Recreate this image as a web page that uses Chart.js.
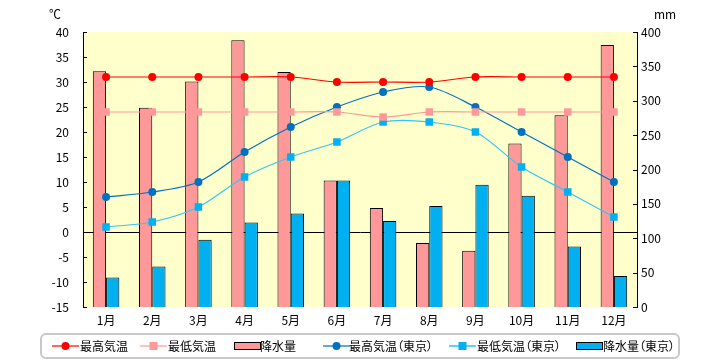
<!DOCTYPE html>
<html>
<head>
<meta charset="utf-8">
<script src="https://cdn.jsdelivr.net/npm/chart.js@4.4.1/dist/chart.umd.min.js"></script>
<style>
  body { margin: 0; background: #fff; font-family: 'Noto Sans CJK JP', sans-serif; }
  #wrap { position: relative; width: 720px; height: 360px; }
  .unit { position: absolute; top: 5px; font-size: 12px; color: #000; }
  #legend {
    position: absolute; left: 40px; top: 333px; width: 636px; height: 22px;
    border: 2px solid #c8c8c8; border-radius: 6px; background: #fff;
  }
  .item { position: absolute; top: 0; height: 22px; font-size: 12px; line-height: 22px; white-space: nowrap; }
  .item svg { position: absolute; top: 0; }
  .item span { font-feature-settings: "palt" 1; }
</style>
</head>
<body>
<div id="wrap">
  <canvas id="climateChart"></canvas>
  <span class="unit" style="left:49px">℃</span>
  <span class="unit" style="left:654px">mm</span>
  <div id="legend"></div>
</div>
<script>
// 月のラベル
const months = ['1月', '2月', '3月', '4月', '5月', '6月', '7月', '8月', '9月', '10月', '11月', '12月'];

// 現地の気温と降水量
const maxTemp = [31, 31, 31, 31, 31, 30, 30, 30, 31, 31, 31, 31];
const minTemp = [24, 24, 24, 24, 24, 24, 23, 24, 24, 24, 24, 24];
const rain = [343, 290, 328, 388, 342, 184, 144, 93, 82, 238, 279, 381];

// 東京の気温と降水量
const maxTempTokyo = [7, 8, 10, 16, 21, 25, 28, 29, 25, 20, 15, 10];
const minTempTokyo = [1, 2, 5, 11, 15, 18, 22, 22, 20, 13, 8, 3];
const rainTokyo = [43, 59, 98, 123, 136, 184, 125, 147, 178, 162, 88, 45];

// 軸の目盛り
const tempTicks = { min: -15, max: 40, step: 5 };
const rainTicks = { min: 0, max: 400, step: 50 };

// 凡例 (HTML)
const legendItems = [
  { label: '最高気温', kind: 'line', color: '#ff0000', marker: 'circle', sx: 10, tx: 38 },
  { label: '最低気温', kind: 'line', color: '#ff9999', marker: 'rect', sx: 98, tx: 126 },
  { label: '降水量', kind: 'bar', color: '#ff9999', sx: 192, tx: 218 },
  { label: '最高気温（東京）', kind: 'line', color: '#0070c0', marker: 'circle', sx: 281, tx: 307 },
  { label: '最低気温（東京）', kind: 'line', color: '#00b0f0', marker: 'rect', sx: 407, tx: 435 },
  { label: '降水量（東京）', kind: 'bar', color: '#00b0f0', sx: 534, tx: 561 }
];

const legendEl = document.getElementById('legend');
legendItems.forEach(it => {
  const div = document.createElement('div');
  div.className = 'item';
  div.style.left = it.sx + 'px';
  let svg;
  if (it.kind === 'line') {
    const mk = it.marker === 'circle'
      ? `<circle cx="13.5" cy="11" r="4" fill="${it.color}"/>`
      : `<rect x="9.5" y="7" width="8" height="8" fill="${it.color}"/>`;
    svg = `<svg width="28" height="22"><line x1="0" y1="11" x2="27" y2="11" stroke="${it.color}" stroke-width="1.2"/>${mk}</svg>`;
  } else {
    svg = `<svg width="28" height="22"><rect x="0.5" y="7.5" width="26" height="7" fill="${it.color}" stroke="#000" stroke-width="1"/></svg>`;
  }
  div.innerHTML = svg + `<span style="position:absolute;left:${it.tx - it.sx}px">${it.label}</span>`;
  legendEl.appendChild(div);
});

// 背景と内向きの目盛り線
const plotDecor = {
  id: 'plotDecor',
  beforeDraw(chart) {
    const { ctx, chartArea: a } = chart;
    ctx.save();
    ctx.fillStyle = '#ffffcc';
    ctx.fillRect(a.left, a.top, a.right - a.left, a.bottom - a.top);
    ctx.restore();
  },
  afterDraw(chart) {
    const { ctx, chartArea: a, scales } = chart;
    ctx.save();
    ctx.strokeStyle = '#000';
    ctx.lineWidth = 1;
    ctx.beginPath();
    scales.y.ticks.forEach(t => {
      const py = Math.round(scales.y.getPixelForValue(t.value)) + 0.5;
      ctx.moveTo(a.left, py);
      ctx.lineTo(a.left + 4, py);
    });
    scales.y2.ticks.forEach(t => {
      const py = Math.round(scales.y2.getPixelForValue(t.value)) + 0.5;
      ctx.moveTo(a.right, py);
      ctx.lineTo(a.right - 4, py);
    });
    ctx.stroke();
    ctx.restore();
  }
};

Chart.defaults.font.family = "'Noto Sans CJK JP', sans-serif";
Chart.defaults.font.size = 12;
Chart.defaults.color = '#000';

new Chart(document.getElementById('climateChart'), {
  data: {
    labels: months,
    datasets: [
      { type: 'line', label: '最高気温', data: maxTemp, yAxisID: 'y', order: 0,
        borderColor: '#ff0000', backgroundColor: '#ff0000', borderWidth: 1.2,
        pointStyle: 'circle', pointRadius: 4, pointBorderWidth: 0, tension: 0.3 },
      { type: 'line', label: '最低気温', data: minTemp, yAxisID: 'y', order: 0,
        borderColor: '#ff9999', backgroundColor: '#ff9999', borderWidth: 1.2,
        pointStyle: 'rect', pointRadius: 5.3, pointBorderWidth: 0, tension: 0.3 },
      { type: 'line', label: '最高気温（東京）', data: maxTempTokyo, yAxisID: 'y', order: 0,
        borderColor: '#0070c0', backgroundColor: '#0070c0', borderWidth: 1.2,
        pointStyle: 'circle', pointRadius: 4, pointBorderWidth: 0, tension: 0.3 },
      { type: 'line', label: '最低気温（東京）', data: minTempTokyo, yAxisID: 'y', order: 0,
        borderColor: '#33c6f4', backgroundColor: '#00b0f0', borderWidth: 1.2,
        pointStyle: 'rect', pointRadius: 5.3, pointBorderWidth: 0, tension: 0.3 },
      { type: 'bar', label: '降水量', data: rain, yAxisID: 'y2', order: 1,
        backgroundColor: '#ff9999', borderColor: '#000', borderWidth: 1,
        barPercentage: 1, categoryPercentage: 0.575 },
      { type: 'bar', label: '降水量（東京）', data: rainTokyo, yAxisID: 'y2', order: 1,
        backgroundColor: '#00b0f0', borderColor: '#000', borderWidth: 1,
        barPercentage: 1, categoryPercentage: 0.575 }
    ]
  },
  options: {
    responsive: true,
    maintainAspectRatio: false,
    animation: false,
    layout: { padding: { top: 32, left: 0, right: 0, bottom: 0 } },
    plugins: { legend: { display: false }, tooltip: { enabled: false } },
    scales: {
      x: {
        grid: { display: false, drawTicks: false },
        border: { display: false },
        ticks: { padding: 6 },
        afterFit(scale) { scale.height = 53; }
      },
      y: {
        position: 'left',
        min: tempTicks.min, max: tempTicks.max,
        ticks: { stepSize: tempTicks.step, padding: 14 },
        grid: {
          drawTicks: false,
          color: c => (c.tick && c.tick.value === 0 ? '#000' : 'rgba(0,0,0,0)'),
          lineWidth: 1
        },
        border: { display: true, color: '#000', width: 1 },
        afterFit(scale) { scale.width = 83; }
      },
      y2: {
        position: 'right',
        min: rainTicks.min, max: rainTicks.max,
        ticks: { stepSize: rainTicks.step, padding: 4 },
        grid: { display: false, drawTicks: false },
        border: { display: true, color: '#000', width: 1 },
        afterFit(scale) { scale.width = 83; }
      }
    }
  },
  plugins: [plotDecor]
});
</script>
</body>
</html>
